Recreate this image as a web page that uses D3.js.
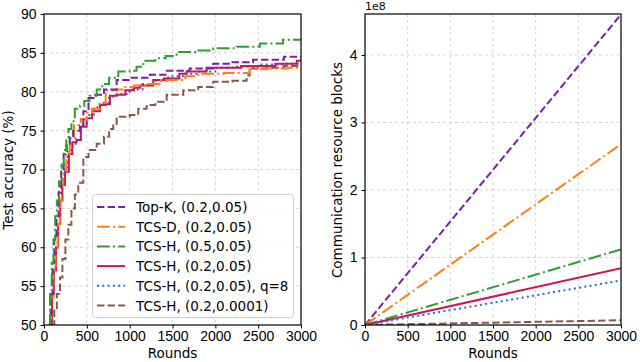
<!DOCTYPE html>
<html>
<head>
<meta charset="utf-8">
<script src="https://cdn.jsdelivr.net/npm/d3@7"></script>
<style>
  body { margin: 0; background: #fff; }
  svg { font-family: "DejaVu Sans", sans-serif; }
  .grid line { stroke: #c8c8c8; stroke-dasharray: 3,3; stroke-width: 0.8; }
  .tick text { font-size: 14px; fill: #000; }
</style>
</head>
<body>
<div class="container"></div>
<script>
// ---- data ----
const seriesNames = ["Top-K, (0.2,0.05)", "TCS-D, (0.2,0.05)", "TCS-H, (0.5,0.05)",
                     "TCS-H, (0.2,0.05)", "TCS-H, (0.2,0.05), q=8", "TCS-H, (0.2,0.0001)"]
const accTicksY = [50, 55, 60, 65, 70, 75, 80, 85, 90]
const roundTicks = [0, 500, 1000, 1500, 2000, 2500, 3000]
const commTicksY = [0, 1, 2, 3, 4]

// accuracy curves: [round, accuracy %]
const accTopK = [[60,50],[80,54],[100,58],[120,61],[145,64],[170,67],[200,70],[230,72],[265,73.3],[300,74.2],[340,75],[420,75.6],[460,77.5],[520,79.2],[600,79.6],[700,80.3],[848,81.5],[1000,81.8],[1237,82.2],[1432,82.7],[1700,83],[1975,83.6],[2200,83.8],[2440,84.1],[2800,84.5],[3000,84.5]]
const accTcsD = [[65,50],[85,53.5],[110,57],[135,60],[160,63],[185,66],[205,68],[225,69.5],[260,72],[300,74],[350,75.7],[430,76.5],[500,77.3],[560,77.8],[650,78.6],[720,80.2],[850,80.3],[950,80.6],[1050,80.8],[1200,81],[1350,81.5],[1500,81.5],[1650,82],[1800,82.3],[2100,82.4],[2400,82.9],[2600,83],[2850,83.1],[3000,83.1]]
const accTcsH05 = [[50,50],[70,54],[90,58],[110,61],[130,64],[150,66],[175,68.5],[205,70.6],[230,72.5],[260,74],[285,75.2],[320,76.2],[360,77.8],[420,78.2],[470,78.8],[530,79.5],[615,80.3],[680,81],[760,81.8],[867,82.6],[1000,82.7],[1080,83.2],[1160,84],[1300,84.3],[1420,84.6],[1548,85.1],[1800,85.3],[1975,85.6],[2250,85.8],[2520,86.2],[2790,86.7],[3000,86.7]]
const accTcsH02 = [[70,50],[95,54],[115,57],[140,60],[165,63],[190,66],[215,68],[245,69.7],[290,72],[330,73.5],[381,73.8],[430,75.5],[498,76.6],[560,77.5],[653,78.3],[720,78.4],[770,79.5],[848,79.6],[950,80.2],[1050,80.5],[1120,80.8],[1275,81.5],[1400,81.7],[1580,82.3],[1665,82.6],[1898,83.1],[2300,83.3],[2700,83.6],[2950,84],[3000,84]]
const accTcsHq8 = [[60,50],[85,54],[110,57],[135,60],[160,63],[185,66],[210,68],[240,70],[275,72.5],[320,73],[370,74],[430,75.8],[500,77],[580,78],[650,78.6],[760,79.4],[850,79.7],[1000,80.3],[1150,81],[1300,81.4],[1450,82],[1650,82.3],[1800,82.6],[2000,83.1],[2250,83.2],[2500,83.5],[2800,83.6],[3000,83.7]]
const accTcsH0001 = [[90,50],[120,52],[150,54],[187,56.1],[215,58.5],[250,61],[284,62.9],[320,65],[360,66.8],[400,68.3],[459,71.6],[520,72.5],[615,73.3],[700,74.2],[760,75.2],[809,75.7],[848,76.8],[1000,77],[1100,77.8],[1198,78.3],[1300,78.7],[1432,79.6],[1626,80.2],[1800,80.6],[1975,81.3],[2200,81.4],[2365,82.1],[2400,83],[2600,83.1],[2800,83.3],[3000,83.4]]

// communication resource blocks (units of 1e8)
const commRounds = [0, 3000]
const commTopK = [0, 4.6]
const commTcsD = [0, 2.68]
const commTcsH05 = [0, 1.12]
const commTcsH02 = [0, 0.84]
const commTcsHq8 = [0, 0.66]
const commTcsH0001 = [0, 0.07]

const colors = ["#7b1fa8", "#ff7f0e", "#2ca02c", "#cc1558", "#1f6fd8", "#8c564b"]
const dashes = ["7.4,3.2", "12.8,3.2,2,3.2", "12.8,3.2,2,3.2", null, "2,3.3", "7.4,3.2"]

const accSeries = [accTopK, accTcsD, accTcsH05, accTcsH02, accTcsHq8, accTcsH0001]
const commSeries = [commTopK, commTcsD, commTcsH05, commTcsH02, commTcsHq8, commTcsH0001]

const width = 640, height = 362
const svg = d3.select(".container").append("svg")
    .attr("width", width).attr("height", height)

function makePanel(left, right, top, bottom, yDomain, yTicks, id) {
    const x = d3.scaleLinear().domain([0, 3000]).range([left, right])
    const y = d3.scaleLinear().domain(yDomain).range([bottom, top])
    const g = svg.append("g")

    g.append("clipPath").attr("id", id)
      .append("rect").attr("x", left).attr("y", top)
      .attr("width", right - left).attr("height", bottom - top)

    // grid
    g.append("g").attr("class", "grid")
      .selectAll("line").data(roundTicks.slice(1, -1)).enter().append("line")
      .attr("x1", d => x(d)).attr("x2", d => x(d)).attr("y1", top).attr("y2", bottom)
    g.append("g").attr("class", "grid")
      .selectAll("line").data(yTicks.filter(d => y(d) < bottom - 1 && y(d) > top + 1)).enter().append("line")
      .attr("x1", left).attr("x2", right).attr("y1", d => y(d)).attr("y2", d => y(d))

    const xAxis = g.append("g").attr("transform", `translate(0,${bottom})`)
      .call(d3.axisBottom(x).tickValues(roundTicks).tickFormat(d3.format("d")).tickSize(3.5).tickPadding(3))
    const yAxis = g.append("g").attr("transform", `translate(${left},0)`)
      .call(d3.axisLeft(y).tickValues(yTicks).tickFormat(d3.format("d")).tickSize(3.5).tickPadding(4))
    xAxis.select(".domain").remove()
    yAxis.select(".domain").remove()

    return { x, y, g, left, right, top, bottom, id }
}

const P1 = makePanel(44, 301, 14, 325, [50, 90], accTicksY, "clip1")
const P2 = makePanel(365, 621, 14, 325, [0, 4.607], commTicksY, "clip2")

// accuracy step curves
const stepLine = d3.line().x(d => P1.x(d[0])).y(d => P1.y(d[1])).curve(d3.curveStepAfter)
const drawOrder = [5, 4, 3, 1, 0, 2]
drawOrder.forEach(i => {
    P1.g.append("path")
      .attr("clip-path", "url(#clip1)")
      .attr("d", stepLine(accSeries[i]))
      .attr("fill", "none")
      .attr("stroke", colors[i])
      .attr("stroke-width", 2)
      .attr("stroke-dasharray", dashes[i])
})

// communication lines
const commLine = d3.line().x((d, k) => P2.x(commRounds[k])).y(d => P2.y(d))
commSeries.forEach((s, i) => {
    P2.g.append("path")
      .attr("clip-path", "url(#clip2)")
      .attr("d", commLine(s))
      .attr("fill", "none")
      .attr("stroke", colors[i])
      .attr("stroke-width", 2)
      .attr("stroke-dasharray", dashes[i])
})

// frames
;[P1, P2].forEach(p => {
    p.g.append("rect")
      .attr("x", p.left).attr("y", p.top)
      .attr("width", p.right - p.left).attr("height", p.bottom - p.top)
      .attr("fill", "none").attr("stroke", "#000").attr("stroke-width", 1.2)
})

// axis labels
svg.append("text").attr("x", (44 + 301) / 2).attr("y", 358)
  .attr("text-anchor", "middle").style("font-size", "13.5px").text("Rounds")
svg.append("text").attr("x", (365 + 621) / 2).attr("y", 358)
  .attr("text-anchor", "middle").style("font-size", "13.5px").text("Rounds")
svg.append("text").attr("transform", "translate(13,170) rotate(-90)")
  .attr("text-anchor", "middle").style("font-size", "13.5px").text("Test accuracy (%)")
svg.append("text").attr("transform", "translate(342,170) rotate(-90)")
  .attr("text-anchor", "middle").style("font-size", "13.5px").text("Communication resource blocks")
svg.append("text").attr("x", 365).attr("y", 10)
  .style("font-size", "11px").text("1e8")

// legend
const lg = svg.append("g")
lg.append("rect").attr("x", 92.5).attr("y", 194.5).attr("width", 201).attr("height", 123)
  .attr("rx", 3).attr("fill", "#fff").attr("fill-opacity", 0.85)
  .attr("stroke", "#ccc").attr("stroke-width", 1)
seriesNames.forEach((name, i) => {
    const yy = 207 + i * 19.7
    lg.append("line").attr("x1", 97).attr("x2", 125).attr("y1", yy).attr("y2", yy)
      .attr("stroke", colors[i]).attr("stroke-width", 2)
      .attr("stroke-dasharray", dashes[i])
    lg.append("text").attr("x", 136).attr("y", yy + 5)
      .style("font-size", "13.5px").text(name)
})
</script>
</body>
</html>
